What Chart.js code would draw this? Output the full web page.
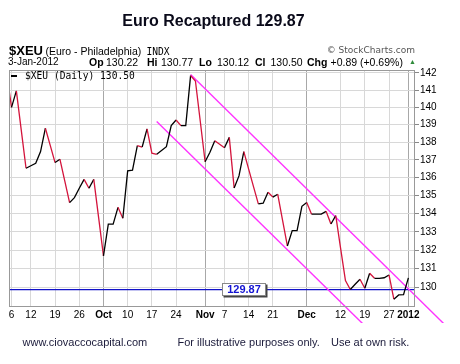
<!DOCTYPE html>
<html>
<head>
<meta charset="utf-8">
<script src="https://cdn.jsdelivr.net/npm/chart.js@4.4.1/dist/chart.umd.min.js"></script>
<style>
  body { margin:0; width:460px; height:364px; background:#fff; position:relative; overflow:hidden;
         font-family:"Liberation Sans", Arial, sans-serif; color:#000; }
  canvas { position:absolute; left:0; top:0; }
  .t { position:absolute; white-space:pre; line-height:1; }
  .b { font-weight:bold; }
  .mono { font-family:"DejaVu Sans Mono", monospace; font-size:9.6px; }
</style>
</head>
<body>
<canvas id="chart" width="460" height="364"></canvas>

<div class="t b" style="left:0;width:427px;text-align:center;top:13px;font-size:16px;color:#0a0a1a;">Euro Recaptured 129.87</div>

<div class="t b" style="left:9px;top:43.5px;font-size:13px;">$XEU</div>
<div class="t" style="left:45.5px;top:45.5px;font-size:10.5px;">(Euro - Philadelphia)</div>
<div class="t mono" style="left:146.5px;top:46.5px;">INDX</div>
<div class="t" style="right:45px;top:45.5px;font-size:9px;font-family:'DejaVu Sans';color:#555;">© StockCharts.com</div>

<div class="t" style="left:8px;top:56.5px;font-size:10px;">3-Jan-2012</div>
<div class="t b" style="left:89px;top:56.5px;font-size:10.5px;">Op</div>
<div class="t" style="left:106px;top:56.5px;font-size:10.5px;">130.22</div>
<div class="t b" style="left:147px;top:56.5px;font-size:10.5px;">Hi</div>
<div class="t" style="left:161px;top:56.5px;font-size:10.5px;">130.77</div>
<div class="t b" style="left:199px;top:56.5px;font-size:10.5px;">Lo</div>
<div class="t" style="left:217px;top:56.5px;font-size:10.5px;">130.12</div>
<div class="t b" style="left:255px;top:56.5px;font-size:10.5px;">Cl</div>
<div class="t" style="left:270.5px;top:56.5px;font-size:10.5px;">130.50</div>
<div class="t b" style="left:307px;top:56.5px;font-size:10.5px;">Chg</div>
<div class="t" style="left:330.5px;top:56.5px;font-size:10.5px;">+0.89 (+0.69%)</div>
<div class="t" style="left:409px;top:58px;font-size:7px;color:#2e8b3a;">▲</div>

<div class="t" style="left:11px;top:74.5px;width:6px;height:2px;background:#000;"></div>
<div class="t mono" style="left:25px;top:71px;">$XEU (Daily) 130.50</div>

<div class="t" style="left:22.5px;top:336.5px;font-size:11px;color:#1a1a3a;">www.ciovaccocapital.com</div>
<div class="t" style="left:177.5px;top:336.5px;font-size:11px;color:#1a1a3a;">For illustrative purposes only.</div>
<div class="t" style="left:331px;top:336.5px;font-size:11px;color:#1a1a3a;">Use at own risk.</div>

<script>
// trading days shown (first one sits just left of the plot edge)
const dates = ['2-Sep','6-Sep','7-Sep','8-Sep','9-Sep','12-Sep','13-Sep','14-Sep','15-Sep','16-Sep',
  '19-Sep','20-Sep','21-Sep','22-Sep','23-Sep','26-Sep','27-Sep','28-Sep','29-Sep','30-Sep',
  '3-Oct','4-Oct','5-Oct','6-Oct','7-Oct','10-Oct','11-Oct','12-Oct','13-Oct','14-Oct',
  '17-Oct','18-Oct','19-Oct','20-Oct','21-Oct','24-Oct','25-Oct','26-Oct','27-Oct','28-Oct','31-Oct',
  '1-Nov','2-Nov','3-Nov','4-Nov','7-Nov','8-Nov','9-Nov','10-Nov','11-Nov','14-Nov','15-Nov',
  '16-Nov','17-Nov','18-Nov','21-Nov','22-Nov','23-Nov','25-Nov','28-Nov','29-Nov','30-Nov',
  '1-Dec','2-Dec','5-Dec','6-Dec','7-Dec','8-Dec','9-Dec','12-Dec','13-Dec','14-Dec','15-Dec',
  '16-Dec','19-Dec','20-Dec','21-Dec','22-Dec','23-Dec','27-Dec','28-Dec','29-Dec','30-Dec','3-Jan'];

const closes = [142.0, 140.0, 140.95, 138.72, 136.53, 136.67, 136.81, 137.47, 138.80, 137.82,
  136.85, 137.04, 135.82, 134.61, 134.89, 135.41, 135.91, 135.41, 135.91, 133.78,
  131.69, 133.42, 133.42, 134.35, 133.75, 136.38, 136.42, 137.81, 137.73, 138.76,
  137.38, 137.32, 137.53, 137.75, 138.95, 139.27, 138.95, 138.95, 141.84, 141.53, 139.20,
  136.90, 137.43, 138.09, 137.89, 137.69, 138.28, 135.43, 136.10, 137.47, 136.48, 135.50,
  134.54, 134.58, 135.19, 134.92, 135.08, 133.65, 132.23, 133.07, 133.07, 134.41,
  134.62, 133.97, 133.97, 133.98, 134.13, 133.43, 133.89, 132.10, 130.36, 129.88, 130.16,
  130.43, 129.95, 130.75, 130.48, 130.48, 130.51, 130.66, 129.36, 129.59, 129.60, 130.50];

// x-axis labels: which day, what text
const tickDates = ['6-Sep','12-Sep','19-Sep','26-Sep','3-Oct','10-Oct','17-Oct','24-Oct','1-Nov','7-Nov',
  '14-Nov','21-Nov','1-Dec','12-Dec','19-Dec','27-Dec','3-Jan'];
const tickText = ['6','12','19','26','Oct','10','17','24','Nov','7','14','21','Dec','12','19','27','2012'];
const monthTicks = ['Oct','Nov','Dec','2012'];

const priceTicks = [130,131,132,133,134,135,136,137,138,139,140,141,142];

// channel lines [day position, price]
const upperChannel = [[38, 141.9], [91.65, 127.73]];
const lowerChannel = [[31, 139.18], [74.9, 127.73]];
const level = 129.87;

const xMin = 0.48, xMax = 84.37;
const tickIdx = tickDates.map(d => dates.indexOf(d));
const isMonth = v => monthTicks.includes(tickText[tickIdx.indexOf(v)]);

const RED = '#d4143c';

const frame = {
  id: 'frame',
  afterDatasetsDraw(chart) {
    const {ctx, chartArea: a, scales} = chart;
    ctx.save();
    const ly = scales.y.getPixelForValue(level);
    const bx = a.left + 213, bw = 44, bh = 13, by = Math.round(ly) - 7;
    ctx.fillStyle = '#444';
    ctx.fillRect(bx + 1.5, by + 1.5, bw, bh);
    ctx.fillStyle = '#fff';
    ctx.fillRect(bx, by, bw, bh);
    ctx.strokeStyle = '#888';
    ctx.lineWidth = 1;
    ctx.strokeRect(bx + 0.5, by + 0.5, bw - 1, bh - 1);
    ctx.fillStyle = '#1414d2';
    ctx.font = 'bold 11px "Liberation Sans", Arial';
    ctx.textAlign = 'center';
    ctx.textBaseline = 'middle';
    ctx.fillText(level.toFixed(2), bx + bw / 2, by + bh / 2 + 0.5);
    ctx.strokeStyle = '#999';
    ctx.strokeRect(a.left + 0.5, a.top + 0.5, a.right - a.left - 1, a.bottom - a.top);
    ctx.restore();
  }
};

new Chart(document.getElementById('chart'), {
  type: 'line',
  data: {
    datasets: [
      {
        data: closes.map((v, i) => ({x: i, y: v})),
        borderWidth: 1.3,
        borderColor: '#000',
        segment: { borderColor: c => c.p1.parsed.y < c.p0.parsed.y ? RED : '#000' },
        pointRadius: 0,
        tension: 0,
        order: 0
      },
      {
        data: upperChannel.map(p => ({x: p[0], y: p[1]})),
        borderColor: '#ff33ff', borderWidth: 1.4, pointRadius: 0,
        clip: {left: false, top: false, right: false, bottom: 17},
        order: 1
      },
      {
        data: lowerChannel.map(p => ({x: p[0], y: p[1]})),
        borderColor: '#ff33ff', borderWidth: 1.4, pointRadius: 0,
        clip: {left: false, top: false, right: false, bottom: 17},
        order: 1
      },
      {
        data: [{x: xMin, y: level}, {x: xMax, y: level}],
        borderColor: '#1010c8', borderWidth: 1.3, pointRadius: 0,
        order: 2
      }
    ]
  },
  options: {
    responsive: false,
    animation: false,
    events: [],
    layout: { padding: {left: 9, top: 70, right: 0, bottom: 0} },
    plugins: { legend: {display: false}, tooltip: {enabled: false} },
    scales: {
      x: {
        type: 'linear',
        min: xMin,
        max: xMax,
        afterBuildTicks: s => { s.ticks = tickIdx.map(v => ({value: v})); },
        afterFit: s => { s.height = 58; s.paddingLeft = 0; s.paddingRight = 0; },
        border: {display: false},
        grid: {
          color: c => (c.tick && isMonth(c.tick.value)) ? '#a8a8a8' : '#d8d8d8',
          lineWidth: 1,
          drawTicks: false
        },
        ticks: {
          autoSkip: false,
          maxRotation: 0,
          padding: 3,
          color: '#000',
          callback: v => tickText[tickIdx.indexOf(v)],
          font: c => ({family: '"Liberation Sans", Arial', size: 10,
                       weight: (c.tick && isMonth(c.tick.value)) ? 'bold' : 'normal'})
        }
      },
      y: {
        type: 'logarithmic',
        position: 'right',
        min: 129,
        max: 142.17,
        afterBuildTicks: s => { s.ticks = priceTicks.map(v => ({value: v})); },
        afterFit: s => { s.width = 45; s.paddingTop = 0; s.paddingBottom = 0; },
        border: {display: false},
        grid: { color: '#d8d8d8', tickColor: '#888', tickLength: 4, lineWidth: 1 },
        ticks: {
          padding: 1,
          color: '#000',
          callback: v => String(v),
          font: {family: '"Liberation Sans", Arial', size: 10}
        }
      }
    }
  },
  plugins: [frame]
});
</script>
</body>
</html>
